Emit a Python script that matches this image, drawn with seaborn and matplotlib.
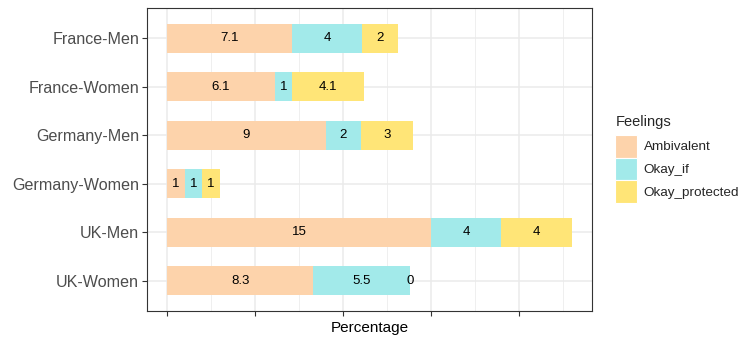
import numpy as np
import pandas as pd
import seaborn as sns
import matplotlib.pyplot as plt
from matplotlib.patches import Patch

groups = ["France-Men", "France-Women", "Germany-Men", "Germany-Women", "UK-Men", "UK-Women"]
ambivalent = [7.1, 6.1, 9, 1, 15, 8.3]
okay_if = [4, 1, 2, 1, 4, 5.5]
okay_protected = [2, 4.1, 3, 1, 4, 0]
feelings = ["Ambivalent", "Okay_if", "Okay_protected"]
colors = ["#FDD3AB", "#A2EAEA", "#FFE577"]

sns.set_theme(style="white")
plt.rcParams["font.family"] = ["Liberation Sans", "DejaVu Sans"]

df = pd.DataFrame({"group": groups, "Ambivalent": ambivalent,
                   "Okay_if": okay_if, "Okay_protected": okay_protected})
# cumulative ends for stacking
df["c1"] = df["Ambivalent"]
df["c2"] = df["c1"] + df["Okay_if"]
df["c3"] = df["c2"] + df["Okay_protected"]

fig = plt.figure(figsize=(7.53, 3.4), dpi=100)
ax = fig.add_axes([147 / 753, 1 - 311 / 340, 445 / 753, 303 / 340])

# grid first (theme_bw look)
for v in np.arange(0, 25, 5):
    ax.axvline(v, color="#EBEBEB", lw=1.1, zorder=0)
for v in np.arange(2.5, 25, 5):
    ax.axvline(v, color="#EBEBEB", lw=0.55, zorder=0)
for i in range(len(groups)):
    ax.axhline(i, color="#EBEBEB", lw=1.1, zorder=0)

# draw longest first, shorter on top
for col, c in zip(["c3", "c2", "c1"], colors[::-1]):
    sns.barplot(data=df, x=col, y="group", color=c, width=0.6, saturation=1,
                orient="h", ax=ax, zorder=2, linewidth=0)

for i, row in df.iterrows():
    starts = [0, row["c1"], row["c2"]]
    for s, f in zip(starts, feelings):
        ax.text(s + row[f] / 2, i, f"{row[f]:g}", ha="center", va="center",
                fontsize=9.5, color="black", zorder=3)

ax.set_xlim(-1.15, 24.15)
ax.set_ylim(5.62, -0.62)
ax.set_xticks([0, 5, 10, 15, 20])
ax.set_xticklabels([])
ax.tick_params(axis="both", which="major", length=3.6, width=0.8, color="#333333",
               bottom=True, left=True)
ax.tick_params(axis="y", labelsize=11.6, labelcolor="#4D4D4D", pad=2)
ax.set_ylabel("")
ax.set_xlabel("Percentage", fontsize=11, color="black", labelpad=0)
for sp in ax.spines.values():
    sp.set_visible(True)
    sp.set_color("#333333")
    sp.set_linewidth(0.8)

handles = [Patch(facecolor=c, edgecolor="white", linewidth=0.8, label=f)
           for c, f in zip(colors, feelings)]
leg = fig.legend(handles=handles, title="Feelings", loc="upper left",
                 bbox_to_anchor=(610 / 753, 1 - 110 / 340), frameon=False,
                 fontsize=9.7, title_fontsize=10.5, handlelength=1.6, handleheight=2.2,
                 labelspacing=0.0, handletextpad=0.5, borderaxespad=0)
leg._legend_box.align = "left"
leg._legend_box.sep = 4

fig.savefig("out.png", dpi=100)
